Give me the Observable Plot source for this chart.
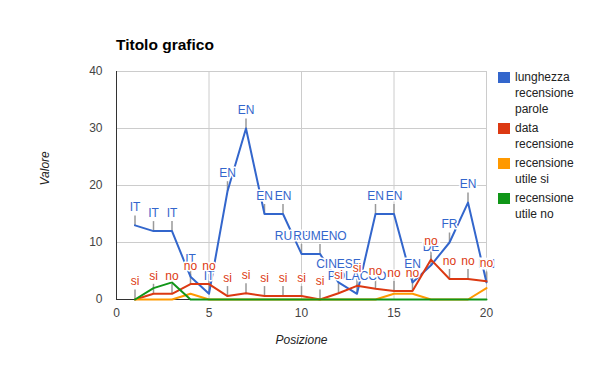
<!DOCTYPE html>
<html><head><meta charset="utf-8">
<script src="https://cdn.jsdelivr.net/npm/d3@7"></script>
<script src="https://cdn.jsdelivr.net/npm/@observablehq/plot@0.6"></script>
<style>
body{margin:0;background:#fff;font-family:"Liberation Sans",Arial,sans-serif;}
#wrap{position:relative;width:600px;height:371px;overflow:hidden;}
#title{position:absolute;left:116px;top:37px;font-size:15.5px;font-weight:bold;color:#000;line-height:16px;white-space:nowrap;}
.leg{position:absolute;left:498px;font-size:12px;color:#222;line-height:16px;}
.leg .sw{position:absolute;left:0;top:3px;width:12px;height:11px;}
.leg .tx{position:absolute;left:17px;top:0;white-space:nowrap;}
</style></head><body>
<div id="wrap"><div id="title">Titolo grafico</div></div>
<script>
const posizioni = [1,2,3,4,5,6,7,8,9,10,11,12,13,14,15,16,17,18,19,20];
const lunghezzaParole = [13,12,12,4,1,19,30,15,15,8,8,3,1,15,15,3,6,10,17,3];
const dataRecensione = [0,1,1,2.7,2.7,0.6,1.1,0.6,0.6,0.6,0,1.1,2.4,1.9,1.5,1.5,7,3.6,3.6,3.2];
const utileSi = [0,0,0,1,0,0,0,0,0,0,0,0,0,0,1,1,0,0,0,2];
const utileNo = [0,2,3,0,0,0,0,0,0,0,0,0,0,0,0,0,0,0,0,0];
const lingua = ["IT","IT","IT","IT","IT","EN","EN","EN","EN","RUMENO","RUMENO","CINESE","POLACCO","EN","EN","EN","DE","FR","EN","EN"];
const utile = ["si","si","no","no","no","si","si","si","si","si","si","si","si","no","no","no","no","no","no","no"];
const xTicks = [0,5,10,15,20];
const yTicks = [0,10,20,30,40];
const serie = ["lunghezza<br>recensione<br>parole","data<br>recensione","recensione<br>utile si","recensione<br>utile no"];
const colori = ["#3366cc","#dc3912","#ff9900","#109618"];

const rows = posizioni.map((p,i)=>({p, lung:lunghezzaParole[i], data:dataRecensione[i], si:utileSi[i], no:utileNo[i], lingua:lingua[i], utile:utile[i]}));
const stem = {draw(ctx){ctx.moveTo(0,0);ctx.lineTo(0,-10);}};

const chart = Plot.plot({
  width:600, height:371,
  marginLeft:116, marginRight:114, marginTop:71, marginBottom:72,
  style:{fontFamily:"Liberation Sans, Arial, sans-serif", fontSize:"12px", background:"transparent"},
  x:{domain:[0,20]},
  y:{domain:[0,40]},
  marks:[
    Plot.gridX(xTicks,{stroke:"#ccc", strokeOpacity:1}),
    Plot.gridY(yTicks,{stroke:"#ccc", strokeOpacity:1}),
    Plot.axisX(xTicks,{tickSize:0, tickPadding:9, color:"#444", label:null, fontSize:12}),
    Plot.axisY(yTicks,{tickSize:0, tickPadding:14, color:"#444", label:null, fontSize:12}),
    Plot.ruleX([0],{stroke:"#333"}),
    Plot.ruleY([0],{stroke:"#333"}),
    Plot.dot(rows,{x:"p", y:"lung", symbol:stem, stroke:"#999", fill:"none"}),
    Plot.dot(rows,{x:"p", y:"data", symbol:stem, stroke:"#999", fill:"none"}),
    Plot.line(rows,{x:"p", y:"lung", stroke:colori[0], strokeWidth:2}),
    Plot.line(rows,{x:"p", y:"data", stroke:colori[1], strokeWidth:2}),
    Plot.line(rows,{x:"p", y:"si", stroke:colori[2], strokeWidth:2}),
    Plot.line(rows,{x:"p", y:"no", stroke:colori[3], strokeWidth:2}),
    Plot.text(rows,{x:"p", y:"lung", text:"lingua", dy:-18, fill:colori[0], stroke:"white", strokeWidth:3, fontSize:12}),
    Plot.text(rows,{x:"p", y:"data", text:"utile", dy:-18, fill:colori[1], stroke:"white", strokeWidth:3, fontSize:12}),
    Plot.text(["Posizione"],{text:d=>d, frameAnchor:"bottom", dy:44, fontStyle:"italic", fill:"#222", fontSize:12}),
    Plot.text(["Valore"],{text:d=>d, frameAnchor:"left", dx:-71, rotate:-90, fontStyle:"italic", fill:"#222", fontSize:12})
  ]
});
const wrap = document.getElementById("wrap");
wrap.insertBefore(chart, wrap.firstChild);

const tops = [69,120,155,190];
serie.forEach((s,i)=>{
  const d = document.createElement("div");
  d.className = "leg";
  d.style.top = tops[i] + "px";
  d.innerHTML = `<div class="sw" style="background:${colori[i]}"></div><div class="tx">${s}</div>`;
  wrap.appendChild(d);
});
</script>
</body></html>
